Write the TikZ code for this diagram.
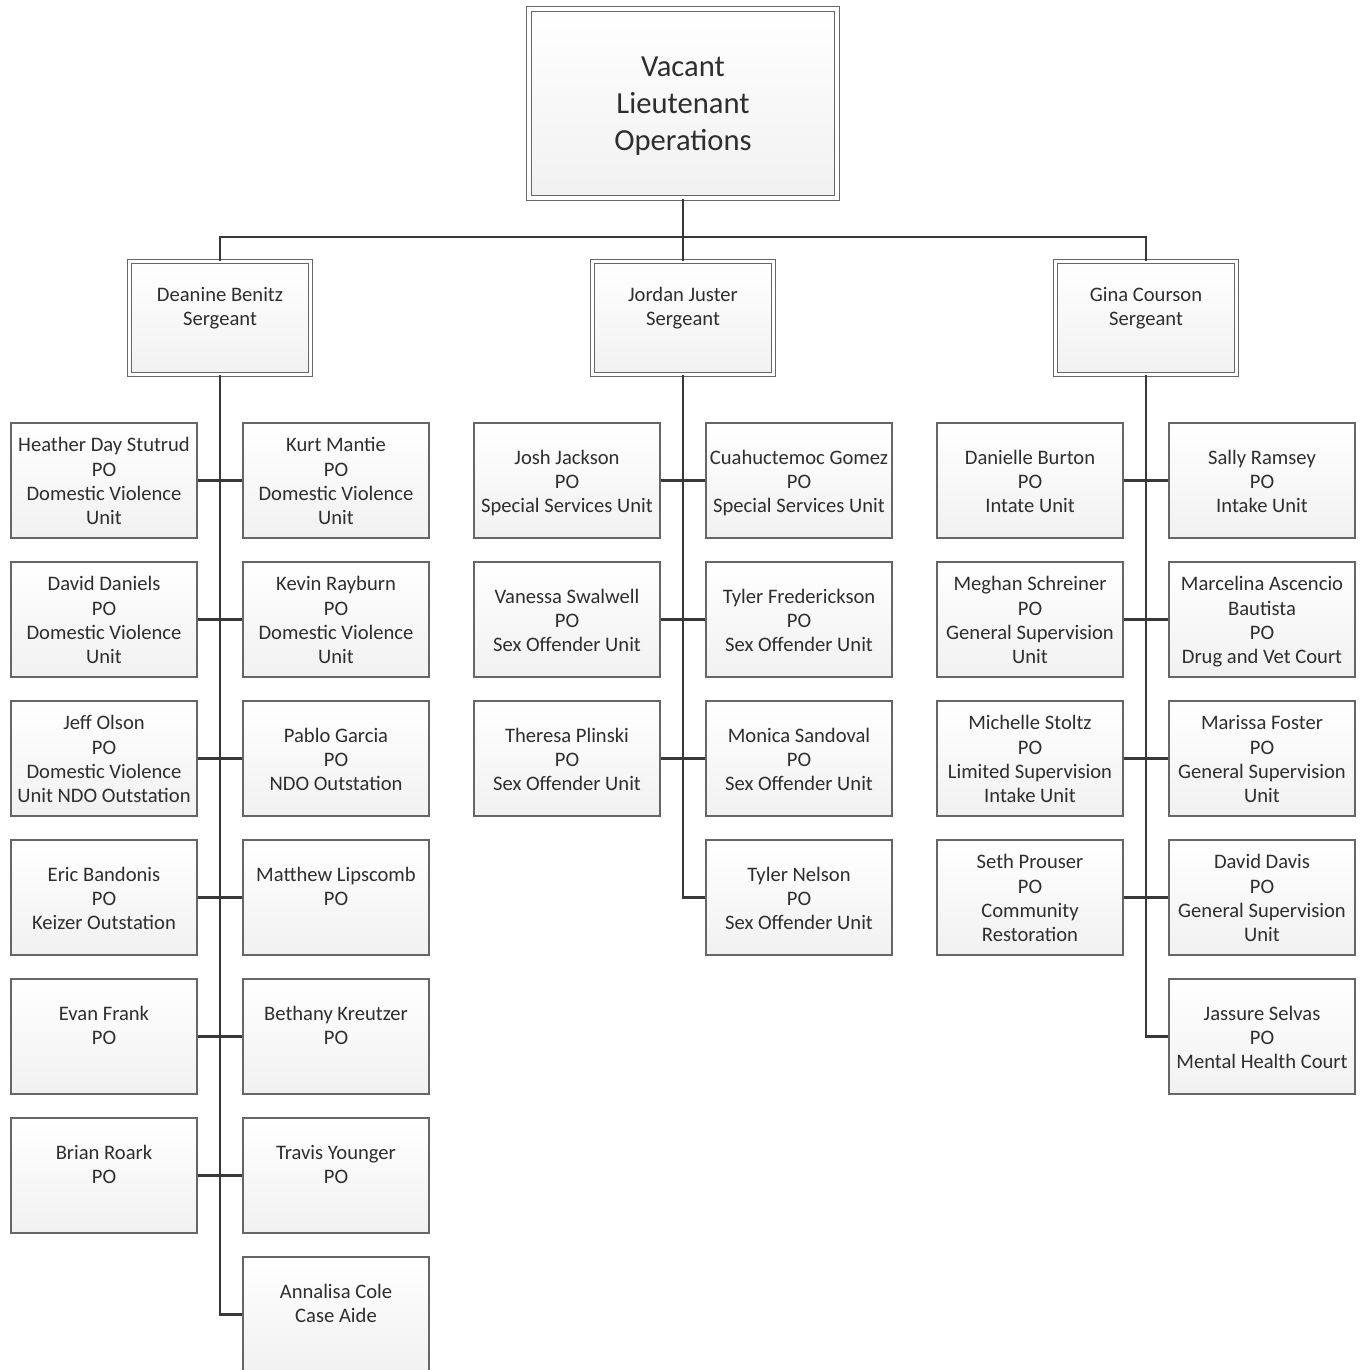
\documentclass[tikz,border=0pt]{standalone}
\usepackage{fontspec}
\setmainfont{Carlito}
% centred lines, lowered by #1 without changing the reported size
\newcommand\cardtext[2][1.5pt]{\raisebox{-#1}[\height][\depth]{\begin{tabular}{@{}c@{}}#2\end{tabular}}}
\begin{document}
\begin{tikzpicture}[x=0.5pt,y=-0.5pt,
  boxbase/.style={shading=axis,top color=white,bottom color=gray!11,
    draw=black!60,inner sep=0pt,text=black!82},
  pobox/.style={boxbase,line width=0.7pt,minimum width=93pt,minimum height=57.5pt,
    font=\fontsize{10.3}{12.15}\selectfont},
  sgtbox/.style={boxbase,line width=0.45pt,double=white,double distance=1.6pt,
    minimum width=90.5pt,minimum height=56.5pt,
    font=\fontsize{10.3}{12.15}\selectfont},
  ltbox/.style={boxbase,line width=0.5pt,double=white,double distance=1.6pt,
    minimum width=154pt,minimum height=94.5pt,
    font=\fontsize{15.3}{18.5}\selectfont},
  link/.style={draw=black!78,line width=1.25pt}]
\useasboundingbox (0,0) rectangle (1363,1370);

% lieutenant and sergeants
\node[ltbox] (lt) at (683,103.5) {\cardtext{Vacant\\Lieutenant\\Operations}};
\node[sgtbox] (s1) at (220,318) {\cardtext{Deanine Benitz\\Sergeant\\\mbox{}}};
\node[sgtbox] (s2) at (683,318) {\cardtext{Jordan Juster\\Sergeant\\\mbox{}}};
\node[sgtbox] (s3) at (1146,318) {\cardtext{Gina Courson\\Sergeant\\\mbox{}}};
\coordinate (bus) at (683,237);

% Benitz team
\node[pobox] (a1) at (104,480.5) {\cardtext{Heather Day Stutrud\\PO\\Domestic Violence\\Unit}};
\node[pobox] (a2) at (336,480.5) {\cardtext{Kurt Mantie\\PO\\Domestic Violence\\Unit}};
\node[pobox] (a3) at (104,619.5) {\cardtext{David Daniels\\PO\\Domestic Violence\\Unit}};
\node[pobox] (a4) at (336,619.5) {\cardtext{Kevin Rayburn\\PO\\Domestic Violence\\Unit}};
\node[pobox] (a5) at (104,758.5) {\cardtext{Jeff Olson\\PO\\Domestic Violence\\Unit NDO Outstation}};
\node[pobox] (a6) at (336,758.5) {\cardtext{Pablo Garcia\\PO\\NDO Outstation}};
\node[pobox] (a7) at (104,897.5) {\cardtext{Eric Bandonis\\PO\\Keizer Outstation}};
\node[pobox] (a8) at (336,897.5) {\cardtext{Matthew Lipscomb\\PO\\\mbox{}}};
\node[pobox] (a9) at (104,1036.5) {\cardtext{Evan Frank\\PO\\\mbox{}}};
\node[pobox] (a10) at (336,1036.5) {\cardtext{Bethany Kreutzer\\PO\\\mbox{}}};
\node[pobox] (a11) at (104,1175.5) {\cardtext{Brian Roark\\PO\\\mbox{}}};
\node[pobox] (a12) at (336,1175.5) {\cardtext{Travis Younger\\PO\\\mbox{}}};
\node[pobox] (a13) at (336,1314.5) {\cardtext{Annalisa Cole\\Case Aide\\\mbox{}}};

% Juster team
\node[pobox] (b1) at (567,480.5) {\cardtext{Josh Jackson\\PO\\Special Services Unit}};
\node[pobox] (b2) at (799,480.5) {\cardtext{Cuahuctemoc Gomez\\PO\\Special Services Unit}};
\node[pobox] (b3) at (567,619.5) {\cardtext{Vanessa Swalwell\\PO\\Sex Offender Unit}};
\node[pobox] (b4) at (799,619.5) {\cardtext{Tyler Frederickson\\PO\\Sex Offender Unit}};
\node[pobox] (b5) at (567,758.5) {\cardtext{Theresa Plinski\\PO\\Sex Offender Unit}};
\node[pobox] (b6) at (799,758.5) {\cardtext{Monica Sandoval\\PO\\Sex Offender Unit}};
\node[pobox] (b7) at (799,897.5) {\cardtext{Tyler Nelson\\PO\\Sex Offender Unit}};

% Courson team
\node[pobox] (c1) at (1030,480.5) {\cardtext{Danielle Burton\\PO\\Intate Unit}};
\node[pobox] (c2) at (1262,480.5) {\cardtext{Sally Ramsey\\PO\\Intake Unit}};
\node[pobox] (c3) at (1030,619.5) {\cardtext{Meghan Schreiner\\PO\\General Supervision\\Unit}};
\node[pobox] (c4) at (1262,619.5) {\cardtext{Marcelina Ascencio\\Bautista\\PO\\Drug and Vet Court}};
\node[pobox] (c5) at (1030,758.5) {\cardtext{Michelle Stoltz\\PO\\Limited Supervision\\Intake Unit}};
\node[pobox] (c6) at (1262,758.5) {\cardtext{Marissa Foster\\PO\\General Supervision\\Unit}};
\node[pobox] (c7) at (1030,897.5) {\cardtext{Seth Prouser\\PO\\Community\\Restoration}};
\node[pobox] (c8) at (1262,897.5) {\cardtext{David Davis\\PO\\General Supervision\\Unit}};
\node[pobox] (c9) at (1262,1036.5) {\cardtext{Jassure Selvas\\PO\\Mental Health Court}};

% lieutenant to sergeants
\draw[link] (lt.south) -- (bus) -- (s2.north);
\draw[link] (s1.north) -- (s1.north |- bus) -- (s3.north |- bus) -- (s3.north);

% sergeant spines
\draw[link] (s1.south) |- (a13.west);
\draw[link] (s2.south) |- (b7.west);
\draw[link] (s3.south) |- (c9.west);

% row links
\foreach \l/\r in {a1/a2,a3/a4,a5/a6,a7/a8,a9/a10,a11/a12,b1/b2,b3/b4,b5/b6,c1/c2,c3/c4,c5/c6,c7/c8}
  \draw[link] (\l.east) -- (\r.west);
\end{tikzpicture}
\end{document}
